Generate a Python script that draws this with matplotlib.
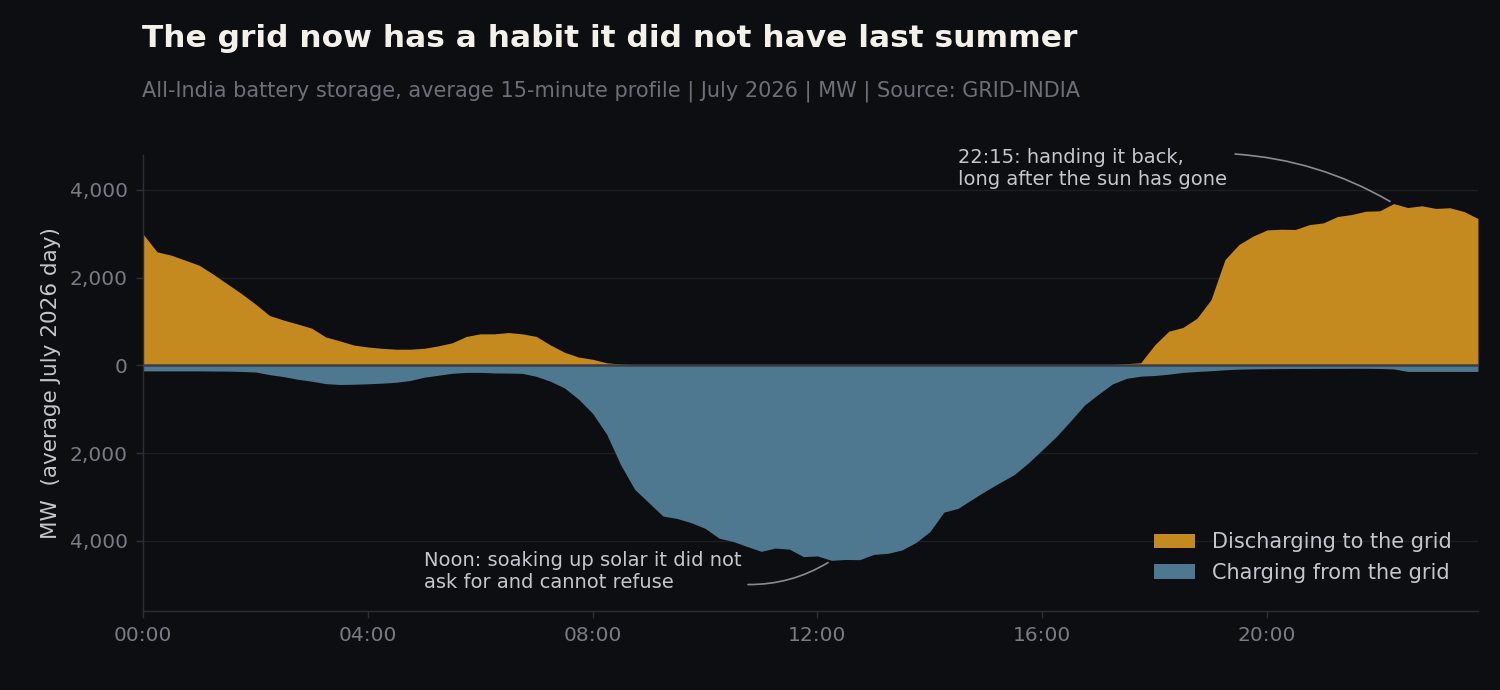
import numpy as np
import matplotlib
matplotlib.use('Agg')
import matplotlib.pyplot as plt
from matplotlib.ticker import FuncFormatter

# average 15-minute profile, MW (96 slots from 00:00 to 23:45)
hours = np.arange(96) * 0.25

discharge_mw = [
    3000, 2590, 2515, 2400, 2285, 2080, 1860, 1640,
    1400, 1140, 1035, 945, 850, 650, 560, 465,
    420, 390, 370, 370, 390, 445, 515, 660,
    720, 720, 750, 720, 660, 465, 300, 190,
    140, 60, 30, 15, 8, 0, 0, 0,
    0, 0, 0, 0, 0, 0, 0, 0,
    0, 0, 0, 0, 0, 0, 0, 0,
    0, 0, 0, 0, 0, 0, 0, 0,
    0, 0, 0, 0, 5, 20, 40, 60,
    470, 780, 865, 1075, 1495, 2415, 2760, 2950,
    3090, 3105, 3100, 3210, 3250, 3395, 3440, 3515,
    3525, 3690, 3600, 3640, 3580, 3595, 3510, 3350,
]

charge_mw = [
    125, 125, 125, 125, 125, 128, 130, 138,
    150, 210, 255, 315, 360, 415, 435, 430,
    420, 405, 385, 345, 270, 225, 180, 160,
    158, 172, 175, 182, 250, 362, 515, 770,
    1095, 1570, 2270, 2830, 3130, 3435, 3490, 3585,
    3715, 3940, 4015, 4130, 4240, 4165, 4190, 4360,
    4345, 4445, 4425, 4430, 4310, 4285, 4210, 4040,
    3790, 3345, 3260, 3055, 2855, 2670, 2490, 2225,
    1925, 1620, 1270, 905, 655, 420, 295, 245,
    230, 200, 160, 138, 122, 100, 85, 78,
    75, 72, 70, 70, 68, 68, 66, 66,
    70, 80, 138, 138, 138, 138, 138, 138,
]

xtick_hours = [0, 4, 8, 12, 16, 20]
xtick_labels = ['00:00', '04:00', '08:00', '12:00', '16:00', '20:00']
ytick_values = [-4000, -2000, 0, 2000, 4000]

bg = '#0d0e12'
orange = '#c4891f'
blue = '#4e7890'
grid_c = '#1d1e24'
spine_c = '#2e2f36'
tick_c = '#7a7b84'
text_c = '#c6c7ce'

discharge = np.array(discharge_mw)
charge = -np.array(charge_mw)

fig = plt.figure(figsize=(15, 6.9), dpi=100, facecolor=bg)
ax = fig.add_axes([0.0953, 0.1145, 0.89, 0.661])
ax.set_facecolor(bg)

ax.fill_between(hours, 0, discharge, color=orange, lw=0, label='Discharging to the grid', zorder=2)
ax.fill_between(hours, 0, charge, color=blue, lw=0, label='Charging from the grid', zorder=2)
ax.axhline(0, color='#3c3d44', lw=1.8, zorder=3)

ax.set_xlim(0, 23.75)
ax.set_ylim(-5600, 4800)
ax.set_xticks(xtick_hours)
ax.set_xticklabels(xtick_labels)
ax.set_yticks(ytick_values)
ax.yaxis.set_major_formatter(FuncFormatter(lambda v, p: f'{abs(v):,.0f}'))

ax.grid(axis='y', color=grid_c, lw=1.0, zorder=0)
ax.grid(axis='x', visible=False)
for side in ['top', 'right']:
    ax.spines[side].set_visible(False)
for side in ['left', 'bottom']:
    ax.spines[side].set_color(spine_c)
    ax.spines[side].set_linewidth(1.0)
ax.tick_params(colors=tick_c, labelsize=14.5, length=5, width=1.0, pad=6)
ax.tick_params(axis='both', color=spine_c)

ax.set_ylabel('MW  (average July 2026 day)', color=text_c, fontsize=15.5, labelpad=6)

fig.text(0.0947, 0.932, 'The grid now has a habit it did not have last summer',
         color='#f4f1ea', fontsize=22.5, fontweight='bold', ha='left', va='baseline')
fig.text(0.0947, 0.86, 'All-India battery storage, average 15-minute profile | July 2026 | MW | Source: GRID-INDIA',
         color='#6e6f78', fontsize=15, ha='left', va='baseline')

ax.annotate('22:15: handing it back,\nlong after the sun has gone',
            xy=(hours[89], discharge[89]), xytext=(14.5, 4960),
            color=text_c, fontsize=14, ha='left', va='top', linespacing=1.2,
            annotation_clip=False,
            arrowprops=dict(arrowstyle='-', color='#8a8b93', lw=1.2,
                            connectionstyle='arc3,rad=-0.12', relpos=(1.03, 0.85),
                            patchA=None, shrinkA=0, shrinkB=3))

ax.annotate('Noon: soaking up solar it did not\nask for and cannot refuse',
            xy=(hours[49], charge[49]), xytext=(5.0, -4230),
            color=text_c, fontsize=14, ha='left', va='top', linespacing=1.2,
            arrowprops=dict(arrowstyle='-', color='#8a8b93', lw=1.2,
                            connectionstyle='arc3,rad=0.15', relpos=(1.02, 0.18),
                            patchA=None, shrinkA=0, shrinkB=3))

leg = ax.legend(loc='lower right', bbox_to_anchor=(0.996, 0.016), frameon=False,
                fontsize=15, labelcolor=text_c,
                handlelength=2.0, handleheight=0.7, handletextpad=0.8,
                borderaxespad=0.6, labelspacing=0.5)

fig.savefig('out.png', dpi=100, facecolor=bg)
